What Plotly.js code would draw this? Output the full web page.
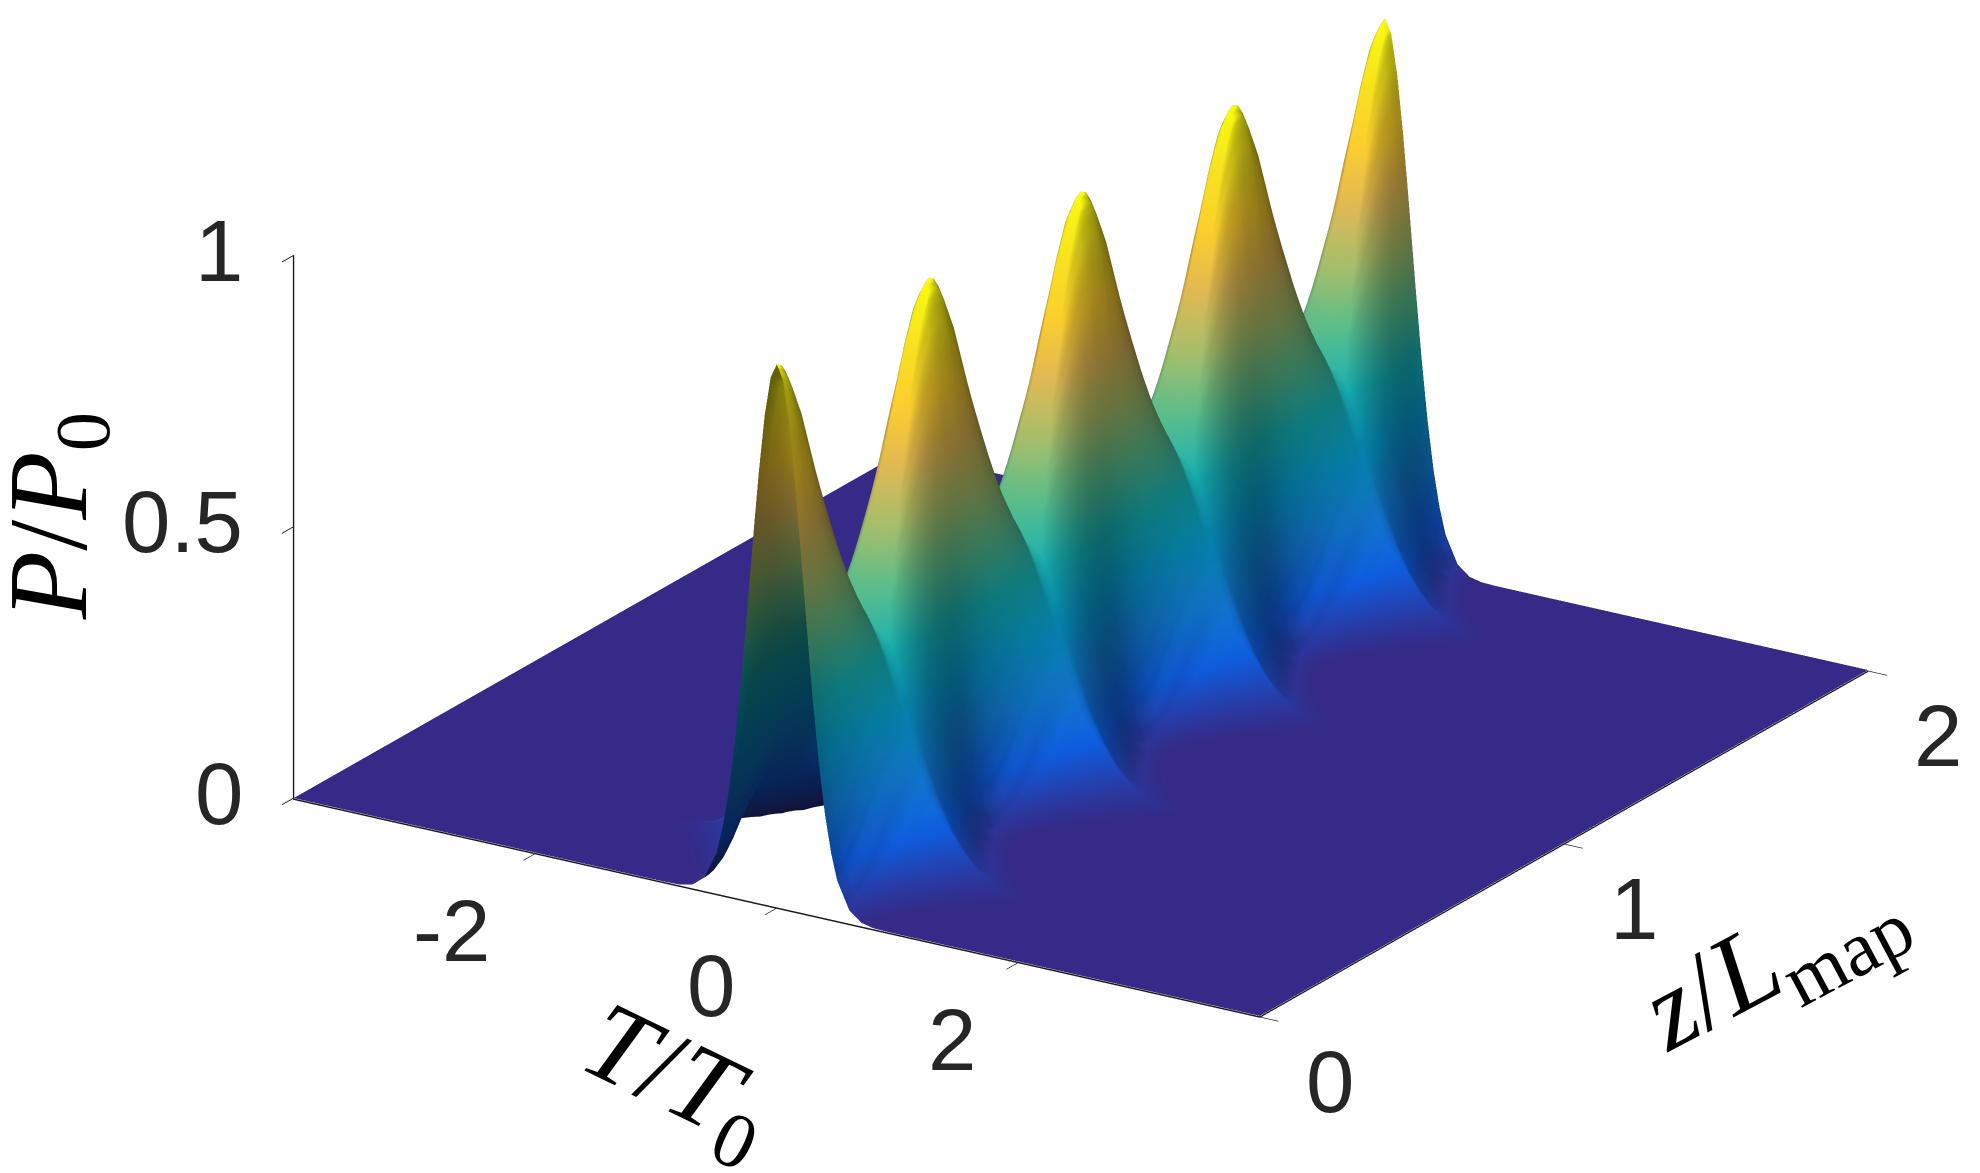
<!DOCTYPE html>
<html><head><meta charset="utf-8">
<script src="https://cdn.plot.ly/plotly-3.0.1.min.js"></script>
<style>html,body{margin:0;padding:0;background:#fff}#plot{width:1980px;height:1173px}</style>
</head><body><div id="plot"></div>
<script>
const timeT=[-4,-3,-2,-1.8,-1.6,-1.5,-1.4,-1.3,-1.2,-1.1,-1,-.9,-.8,-.7,-.6,-.5,-.45,-.4,-.35,-.3,-.25,-.2,-.15,-.1,-.05,0,.05,.1,.15,.2,.25,.3,.35,.4,.45,.5,.6,.7,.8,.9,1,1.1,1.2,1.3,1.4,1.5,1.6,1.8,2,3,4];
const distZ=[0,.015625,.03125,.0625,.09375,.125,.15625,.1875,.21875,.25,.28125,.3125,.34375,.375,.40625,.4375,.46875,.484375,
 .5,.515625,.53125,.5625,.59375,.625,.65625,.6875,.71875,.75,.78125,.8125,.84375,.875,.90625,.9375,.96875,.984375,
 1,1.015625,1.03125,1.0625,1.09375,1.125,1.15625,1.1875,1.21875,1.25,1.28125,1.3125,1.34375,1.375,1.40625,1.4375,1.46875,1.484375,
 1.5,1.515625,1.53125,1.5625,1.59375,1.625,1.65625,1.6875,1.71875,1.75,1.78125,1.8125,1.84375,1.875,1.90625,1.9375,1.96875,1.984375,2];
// one half of each symmetric pulse profile, |T| = 0 .. 4
const p0=[1,.974,.901,.791,.660,.522,.392,.279,.189,.122,.074,.024,.006,.001,.0002,0,0,0,0,0,0,0,0,0,0,0];
const pa=[.9935,.968,.897,.789,.659,.523,.394,.282,.192,.124,.076,.025,.006,.001,.0002,0,0,0,0,0,0,0,0,0,0,0];
const p1=[.975,.951,.883,.781,.656,.526,.400,.290,.200,.132,.082,.028,.008,.002,.0004,.0001,0,0,0,0,0,0,0,0,0,0];
const p2=[.909,.890,.834,.749,.644,.531,.419,.317,.230,.159,.106,.041,.013,.004,.001,.0002,0,0,0,0,0,0,0,0,0,0];
const p3=[.823,.809,.767,.702,.621,.529,.436,.347,.266,.197,.141,.065,.026,.009,.003,.001,.0003,.0001,0,0,0,0,0,0,0,0];
const p4=[.736,.726,.696,.648,.587,.517,.443,.369,.298,.235,.180,.097,.046,.020,.008,.003,.0013,.0004,.0001,0,0,0,0,0,0,0];
const p5=[.657,.650,.628,.594,.549,.496,.439,.379,.320,.265,.214,.131,.073,.037,.017,.007,.0031,.0012,.0005,.0002,.0001,0,0,0,0,0];
const p6=[.587,.582,.566,.541,.509,.469,.425,.378,.331,.284,.239,.161,.101,.059,.032,.016,.0085,.0040,.0020,.0009,.0004,.0002,0,0,0,0];
const p7=[.528,.524,.513,.495,.470,.440,.407,.370,.332,.293,.256,.186,.127,.082,.050,.029,.0165,.0090,.0048,.0025,.0012,.0006,.0001,0,0,0];
const p8=[.478,.475,.467,.453,.435,.412,.386,.357,.327,.295,.264,.203,.149,.105,.070,.044,.0280,.0170,.0100,.0060,.0033,.0018,.0005,.0001,0,0];
const both=h=>[...h.slice(1).reverse(),...h];
const mapCycle=[p0,pa,p1,p2,p3,p4,p5,p6,p7,p8,p7,p6,p5,p4,p3,p2,p1,pa].map(both);
const power=[...mapCycle,...mapCycle,...mapCycle,...mapCycle,both(p0)];

const tTicks=[-2,0,2];
const zTicks=[0,1,2];
const pTicks=[0,.5,1];
const parula=[[0,'#352a87'],[.1,'#0f5cdd'],[.2,'#127dd8'],[.3,'#079ccf'],[.4,'#15b1b4'],[.5,'#59bd8c'],[.6,'#a5be6b'],[.7,'#e1b952'],[.8,'#fcce2e'],[.9,'#f7e31e'],[1,'#f9fb0e']];

const tickFont={family:'"Liberation Sans",Arial,sans-serif',size:87,color:'#262626'};
const titleFont={family:'"Liberation Serif",serif',size:112,color:'#000'};
const ann=[];
tTicks.forEach(v=>ann.push({x:v,y:0,z:0,text:String(v),showarrow:false,font:tickFont,xanchor:'center',yanchor:'middle',xshift:v<0?-84:-66,yshift:-78}));
zTicks.forEach(v=>ann.push({x:4,y:v,z:0,text:String(v),showarrow:false,font:tickFont,xanchor:'center',yanchor:'middle',xshift:70,yshift:-66}));
pTicks.forEach(v=>ann.push({x:-4,y:0,z:v,text:String(v),showarrow:false,font:tickFont,xanchor:'right',yanchor:'middle',xshift:-49,yshift:5}));
ann.push({x:0,y:0,z:0,text:'<i>T</i>/<i>T</i><sub>0</sub>',showarrow:false,font:titleFont,textangle:26,xanchor:'center',yanchor:'middle',xshift:-100,yshift:-175});
ann.push({x:4,y:1,z:0,text:'<i>z</i>/<i>L</i><sub>map</sub>',showarrow:false,font:titleFont,textangle:-28,xanchor:'center',yanchor:'middle',xshift:210,yshift:-120});
ann.push({x:-4,y:0,z:.5,text:'<i>P</i>/<i>P</i><sub>0</sub>',showarrow:false,font:titleFont,textangle:-90,xanchor:'center',yanchor:'middle',xshift:-237,yshift:10});

const axisCommon={showgrid:false,showbackground:false,zeroline:false,showspikes:false,showline:true,linecolor:'#1a1a1a',linewidth:3,ticks:'outside',ticklen:22,tickwidth:2,tickcolor:'#1a1a1a',showticklabels:false,title:{text:''}};
const ctr={x:.0405,y:-.0642,z:-.196};
Plotly.newPlot('plot',[{type:'surface',x:timeT,y:distZ,z:power,colorscale:parula,cmin:0,cmax:1,showscale:false,hoverinfo:'skip',
 lighting:{ambient:.4,diffuse:1,specular:.1,roughness:.4,fresnel:0},lightposition:{x:-2500,y:5000,z:-30},
 contours:{x:{highlight:false},y:{highlight:false},z:{highlight:false}}}],
 {width:1980,height:1173,margin:{l:0,r:0,t:0,b:0},paper_bgcolor:'#fff',showlegend:false,
  scene:{domain:{x:[.0919,1],y:[0,1]},aspectmode:'manual',aspectratio:{x:1.947,y:1.947,z:.993},
   camera:{eye:{x:ctr.x+.995,y:ctr.y-1.58,z:ctr.z+.716},up:{x:0,y:0,z:1},center:ctr,projection:{type:'orthographic'}},
   xaxis:{...axisCommon,range:[-4,4],tickvals:tTicks},
   yaxis:{...axisCommon,range:[0,2],tickvals:zTicks},
   zaxis:{...axisCommon,range:[-.002,1],tickvals:pTicks},
   annotations:ann}},
 {displayModeBar:false,staticPlot:false});
</script></body></html>
